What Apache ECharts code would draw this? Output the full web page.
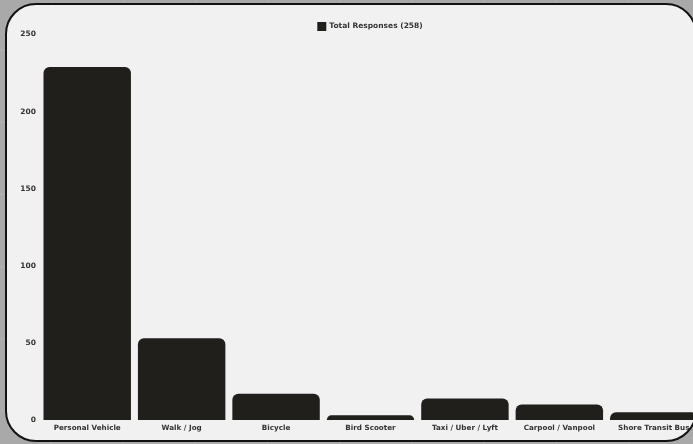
<!DOCTYPE html>
<html>
<head>
<meta charset="utf-8">
<script src="https://cdn.jsdelivr.net/npm/echarts@6/dist/echarts.min.js"></script>
<style>
html,body{margin:0;padding:0;overflow:hidden;background:#a9a9a9;}
#chart{width:740px;height:444px;}
</style>
</head>
<body>
<div id="chart"></div>
<script>
const categories = ["Personal Vehicle","Walk / Jog","Bicycle","Bird Scooter","Taxi / Uber / Lyft","Carpool / Vanpool","Shore Transit Bus"];
const responses = [229, 53, 17, 3, 14, 10, 5];
const seriesName = "Total Responses (258)";
const yTicks = [0, 50, 100, 150, 200, 250];

const FONT = "DejaVu Sans";
const chart = echarts.init(document.getElementById('chart'), null, {renderer:'canvas'});

const deco = [];
for (let i = 0; i < 11; i++) {
  const x = 51 + i * 72.2;
  deco.push({type:'line', z:-20, silent:true, shape:{x1:x,y1:0,x2:x,y2:444}, style:{stroke:'#b2b2b2', lineWidth:1}});
}
for (let j = 0; j < 7; j++) {
  const y = 50 + j * 72.2;
  deco.push({type:'line', z:-20, silent:true, shape:{x1:0,y1:y,x2:740,y2:y}, style:{stroke:'#b2b2b2', lineWidth:1}});
}
deco.push({type:'rect', z:-10, silent:true, shape:{x:6,y:4,width:690,height:437,r:30}, style:{fill:'#f1f1f1', stroke:'#111111', lineWidth:2}});

chart.setOption({
  backgroundColor:'#a9a9a9',
  animation:false,
  graphic: deco,
  legend:{
    top:17, left:'center',
    itemWidth:9, itemHeight:9, itemGap:3,
    icon:'rect',
    textStyle:{fontFamily:FONT, fontWeight:'bold', fontSize:7.5, color:'#333333', padding:[0,0,0,-2]},
    data:[seriesName]
  },
  grid:{left:40, right:39, top:34.5, bottom:24, containLabel:false},
  xAxis:{
    type:'category', data:categories,
    axisLine:{show:false}, axisTick:{show:false},
    axisLabel:{fontFamily:FONT, fontWeight:'bold', fontSize:7.2, color:'#333333', margin:4.5, interval:0}
  },
  yAxis:{
    type:'value', min:0, max:250, interval:50,
    splitLine:{show:false}, axisLine:{show:false}, axisTick:{show:false},
    axisLabel:{fontFamily:FONT, fontWeight:'bold', fontSize:7.5, color:'#333333', margin:4,
      formatter: v => yTicks.includes(v) ? String(v) : ''}
  },
  series:[{
    name:seriesName, type:'bar', data:responses,
    barCategoryGap:'7.4%',
    itemStyle:{color:'#201f1c', borderRadius:[6,6,0,0]}
  }]
});
</script>
</body>
</html>
